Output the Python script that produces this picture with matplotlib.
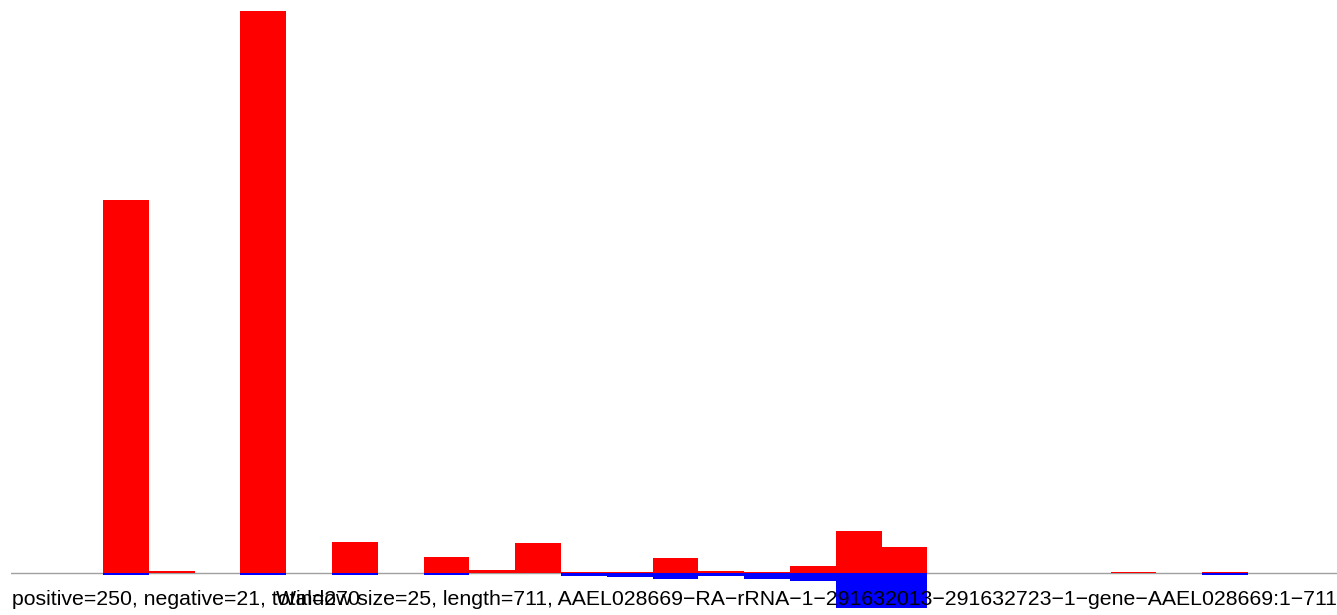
import matplotlib
matplotlib.use("Agg")
import matplotlib.pyplot as plt
import numpy as np

# reads per 25-nt window (window index 0..28)
positive = [0, 0, 83, 0.45, 0, 125, 0, 7, 0, 3.6, 0.75, 6.7, 0.2, 0.2, 3.4,
            0.5, 0.3, 1.6, 9.4, 5.8, 0, 0, 0, 0, 0.3, 0, 0.25, 0, 0]
negative = [0, 0, 0.3, 0, 0, 0.3, 0, 0.3, 0, 0.3, 0, 0, 0.5, 0.75, 1.3,
            0.5, 1.3, 1.7, 7.65, 7.65, 0, 0, 0, 0, 0, 0, 0.3, 0, 0]

stats_label = "positive=250, negative=21, total=270"
info_label = ("Window size=25, length=711, "
              "AAEL028669\u2212RA\u2212rRNA\u22121\u2212291632013\u2212291632723"
              "\u22121\u2212gene\u2212AAEL028669:1\u2212711")

W, H = 1337, 615
fig = plt.figure(figsize=(W / 100, H / 100), dpi=100)
# axes from x=11.4px to the right edge, y from 11px to the bottom
ax = fig.add_axes([11.4 / W, 0, 1 - 11.4 / W, 1 - 11 / H])

x = np.arange(len(positive))
ax.axhline(0, color="#a0a0a0", lw=1.0, zorder=1)
ax.bar(x, [-v for v in negative], width=1.0, align="edge", color="#0000ff",
       linewidth=0, zorder=2)
ax.bar(x, positive, width=1.0, align="edge", color="#ff0000",
       linewidth=0, zorder=3)

top = max(positive)
px = top / 562.3  # units per pixel
ax.set_ylim(-(H - 573.3) * px, top)
ax.set_xlim(0, (W - 11.4) / 45.8)
ax.axis("off")

fig.text(12 / W, 1 - 605 / H, stats_label, ha="left", va="baseline",
         fontsize=15.3, family="Liberation Sans", zorder=10)
fig.text(1.0, 1 - 605 / H, info_label, ha="right", va="baseline",
         fontsize=15.3, family="Liberation Sans", zorder=10)

fig.savefig("out.png", dpi=100)
plt.close(fig)
